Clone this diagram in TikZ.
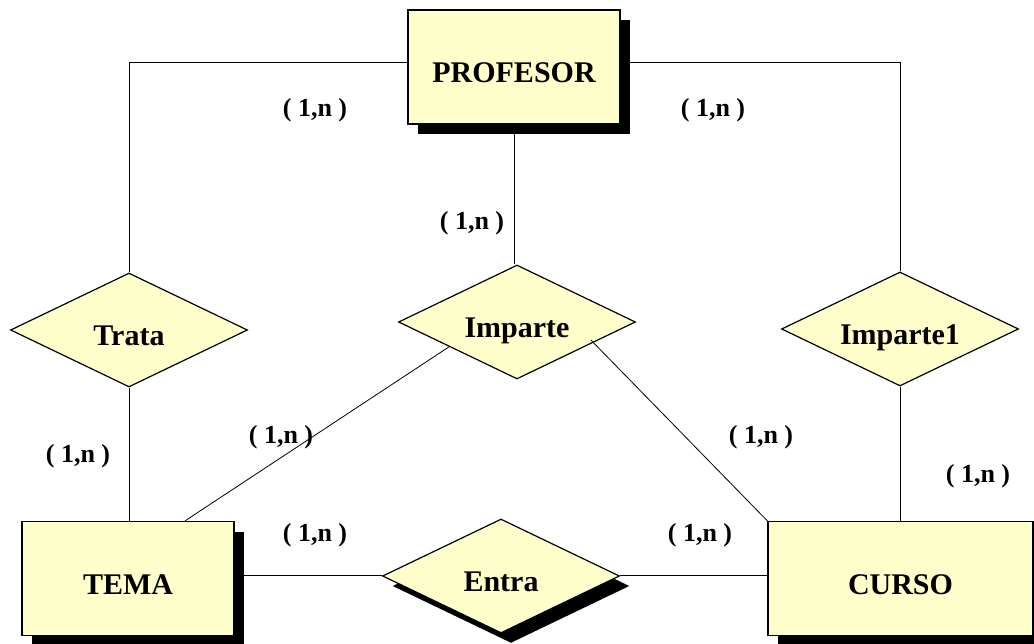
\documentclass[tikz,border=0pt]{standalone}
\usepackage{fontspec}
\setmainfont{Liberation Serif}
\usetikzlibrary{shapes.geometric,calc,backgrounds}
\definecolor{pale}{RGB}{255,255,204}
\tikzset{
  ent/.style={draw=black,line width=1.2pt,fill=pale,minimum width=212pt,minimum height=114pt,inner sep=0pt,text height=31pt,text depth=0pt,font=\fontsize{30}{33}\selectfont\bfseries},
  rel/.style={draw=black,line width=1.2pt,fill=pale,diamond,aspect=2.08,minimum width=237pt,minimum height=114pt,inner sep=0pt,text height=31pt,text depth=0pt,font=\fontsize{30}{33}\selectfont\bfseries},
  card/.style={inner sep=0pt,font=\fontsize{26}{28}\selectfont\bfseries},
  shadowfill/.style={fill=black},
  conn/.style={draw=black,line width=0.8pt}
}
\begin{document}
\begin{tikzpicture}[x=1pt,y=-1pt]
\useasboundingbox (0,0) rectangle (1034,644);
% shadows
\node[ent,shadowfill,draw=none] at (524,77) {};
\node[ent,shadowfill,draw=none] at (138,588.5) {};
\node[ent,shadowfill,draw=none,minimum width=265pt] at (910.5,588.5) {};
\node[rel,shadowfill,draw=none] at (511,586) {};
% shapes
\node[ent] (PROFESOR) at (514,67) {PROFESOR};
\node[ent] (TEMA) at (128,578.5) {TEMA};
\node[ent,minimum width=265pt] (CURSO) at (900.5,578.5) {CURSO};
\node[rel] (Trata) at (129,330) {Trata};
\node[rel] (Imparte) at (517,322) {Imparte};
\node[rel] (Imparte1) at (900,329) {Imparte1};
\node[rel] (Entra) at (501,576) {Entra};
% connectors
\coordinate (ipin) at ($(Imparte.center)!0.62!(Imparte.east)+(0,18)$);
\coordinate (temaTop) at ([xshift=57pt]TEMA.north);
\begin{scope}[on background layer]
\draw[conn] ([yshift=5pt]PROFESOR.west) -| (Trata.north);
\draw[conn] ([yshift=5pt]PROFESOR.east) -| (Imparte1.north);
\draw[conn] (PROFESOR.south) -- (PROFESOR.south |- Imparte.north);
\draw[conn] (Trata.south) -- (Trata.south |- TEMA.north);
\draw[conn] ($(Imparte.west)!0.43!(Imparte.south)$) -- (temaTop);
\draw[conn] (Imparte1.south) -- (Imparte1.south |- CURSO.north);
\draw[conn] ([yshift=3pt]TEMA.east) -- ([yshift=3pt]TEMA.east -| Entra.west);
\draw[conn] ([yshift=3pt]CURSO.west -| Entra.east) -- ([yshift=3pt]CURSO.west);
\end{scope}
\draw[conn] (ipin) -- (CURSO.north west);
% cardinalities
\node[card] (c1) at (315,110) {( 1,n )};
\node[card] (c2) at (713,110) {( 1,n )};
\node[card] (c3) at (472,223) {( 1,n )};
\node[card] (c4) at (281,437) {( 1,n )};
\node[card] (c5) at (78,456) {( 1,n )};
\node[card] (c6) at (761,437) {( 1,n )};
\node[card] (c7) at (978,476) {( 1,n )};
\node[card] (c8) at (315,535) {( 1,n )};
\node[card] (c9) at (700,535) {( 1,n )};
\end{tikzpicture}
\end{document}
